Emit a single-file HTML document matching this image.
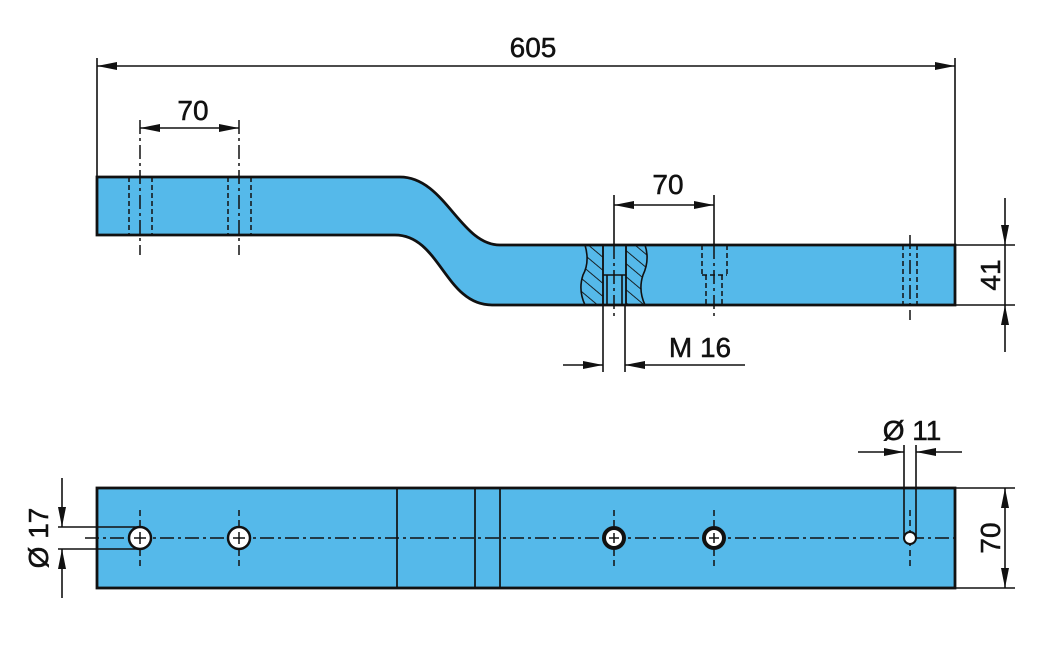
<!DOCTYPE html>
<html><head><style>body{margin:0;background:#fff}svg{display:block}text{font-family:"Liberation Sans",sans-serif;font-size:28px;fill:#111;stroke:#111;stroke-width:0.5}</style></head><body>
<svg width="1039" height="655" viewBox="0 0 1039 655" xmlns="http://www.w3.org/2000/svg">
<defs>
<marker id="a" viewBox="0 0 20 8" refX="20" refY="4" markerWidth="20" markerHeight="8" markerUnits="userSpaceOnUse" orient="auto"><path d="M0,0L20,4L0,8z" fill="#111"/></marker>
<pattern id="h" width="10" height="10" patternUnits="userSpaceOnUse" patternTransform="rotate(-50)"><line x1="0" y1="0" x2="0" y2="10" stroke="#111" stroke-width="1.8"/></pattern>
</defs>
<g stroke="#111" fill="none">
<path d="M97,177 L400,177 C445,177 460,245 500,245 L955,245 L955,305 L492,305 C445,305 440,235 395,235 L97,235 Z" fill="#55b9ea" stroke-width="2.8"/>
<path d="M585,245 L603,245 L603,305 L585,305 Q578,290 583,275 Q590,262 585,245Z" fill="url(#h)" stroke-width="1.6"/>
<path d="M626,245 L645,245 Q650,260 643,275 Q638,290 645,305 L626,305Z" fill="url(#h)" stroke-width="1.6"/>
<path d="M603,245V305M626,245V305M603,275H626M607,275V305M622,275V305" stroke-width="1.6"/>
<path d="M97,58V177M955,58V245" stroke-width="1.6"/>
<line x1="120" y1="66" x2="97" y2="66" stroke-width="1.6" marker-end="url(#a)"/>
<line x1="120" y1="66" x2="955" y2="66" stroke-width="1.6" marker-end="url(#a)"/>
<path d="M140,120V255M239,120V255" stroke-width="1.5" stroke-dasharray="14,4,3,4"/>
<path d="M129,177V235M152,177V235M228,177V235M251,177V235" stroke-width="1.5" stroke-dasharray="5,3"/>
<line x1="190" y1="128" x2="140" y2="128" stroke-width="1.6" marker-end="url(#a)"/>
<line x1="190" y1="128" x2="239" y2="128" stroke-width="1.6" marker-end="url(#a)"/>
<path d="M614,195V245M714,195V245" stroke-width="1.6"/>
<path d="M614,245V320M714,245V320M910,235V320" stroke-width="1.5" stroke-dasharray="14,4,3,4"/>
<path d="M702,245V275M727,245V275M706,275V305M722,275V305M702,275H727M903,245V305M917,245V305" stroke-width="1.5" stroke-dasharray="5,3"/>
<line x1="664" y1="205" x2="614" y2="205" stroke-width="1.6" marker-end="url(#a)"/>
<line x1="664" y1="205" x2="714" y2="205" stroke-width="1.6" marker-end="url(#a)"/>
<path d="M955,245H1015M955,305H1015" stroke-width="1.6"/>
<line x1="1005" y1="198" x2="1005" y2="245" stroke-width="1.6" marker-end="url(#a)"/>
<line x1="1005" y1="352" x2="1005" y2="305" stroke-width="1.6" marker-end="url(#a)"/>
<path d="M1005,245V305" stroke-width="1.6"/>
<path d="M603,305V372M625,305V372" stroke-width="1.6"/>
<line x1="563" y1="365" x2="603" y2="365" stroke-width="1.6" marker-end="url(#a)"/>
<line x1="745" y1="365" x2="625" y2="365" stroke-width="1.6" marker-end="url(#a)"/>
<rect x="97" y="488" width="858" height="100" fill="#55b9ea" stroke-width="2.8"/>
<path d="M397,488V588M475,488V588M500,488V588" stroke-width="1.7"/>
<path d="M85,538H960" stroke-width="1.5" stroke-dasharray="14,4,3,4"/>
<path d="M140,510V566M239,510V566M614,510V566M714,510V566M910,510V566" stroke-width="1.5" stroke-dasharray="6,4"/>
<g fill="#fff" stroke-width="2.5">
<circle cx="140" cy="538" r="11"/><circle cx="239" cy="538" r="11"/>
<circle cx="614" cy="538" r="10" stroke-width="4"/><circle cx="714" cy="538" r="10" stroke-width="4"/>
<circle cx="910" cy="538" r="6" stroke-width="2"/>
</g>
<path d="M134,538H146M140,532V544M233,538H245M239,532V544M609,538H619M614,533V543M709,538H719M714,533V543" stroke-width="1.5"/>
<path d="M58,527H140M58,549H140" stroke-width="1.6"/>
<line x1="62" y1="478" x2="62" y2="527" stroke-width="1.6" marker-end="url(#a)"/>
<line x1="62" y1="598" x2="62" y2="549" stroke-width="1.6" marker-end="url(#a)"/>
<path d="M904,445V538M916,445V538" stroke-width="1.6"/>
<line x1="858" y1="452" x2="904" y2="452" stroke-width="1.6" marker-end="url(#a)"/>
<line x1="962" y1="452" x2="916" y2="452" stroke-width="1.6" marker-end="url(#a)"/>
<path d="M955,488H1015M955,588H1015" stroke-width="1.6"/>
<line x1="1005" y1="538" x2="1005" y2="488" stroke-width="1.6" marker-end="url(#a)"/>
<line x1="1005" y1="538" x2="1005" y2="588" stroke-width="1.6" marker-end="url(#a)"/>
</g>
<text x="533" y="57" text-anchor="middle">605</text>
<text x="193" y="120" text-anchor="middle">70</text>
<text x="668" y="194" text-anchor="middle">70</text>
<text x="700" y="357" text-anchor="middle">M 16</text>
<text x="912" y="440" text-anchor="middle">Ø 11</text>
<text transform="translate(1000,275) rotate(-90)" text-anchor="middle">41</text>
<text transform="translate(1000,538) rotate(-90)" text-anchor="middle">70</text>
<text transform="translate(48,538) rotate(-90)" text-anchor="middle">Ø 17</text>
</svg>
</body></html>
